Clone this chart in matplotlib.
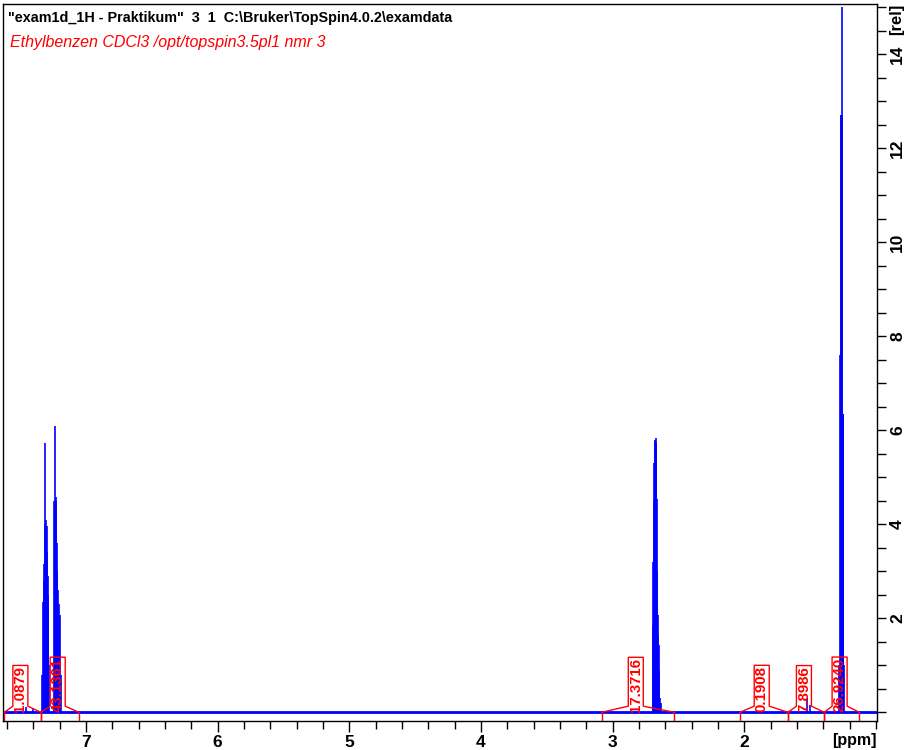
"""1H NMR spectrum of ethylbenzene (TopSpin style plot)"""

import matplotlib.pyplot as plt
from matplotlib.ticker import FixedLocator, MultipleLocator

# peak lines: position (ppm) and height (rel)
arom_ppm = [7.330, 7.324, 7.320, 7.317, 7.313, 7.310, 7.305, 7.302, 7.298,
            7.295, 7.292, 7.289, 7.286, 7.280, 7.239, 7.236, 7.233, 7.229,
            7.226, 7.222, 7.218, 7.212, 7.207, 7.202, 7.197, 7.190]
arom_int = [0.8, 2.35, 2.8, 3.16, 4.0, 5.74, 4.10, 3.5, 3.96,
            3.4, 2.90, 2.5, 2.20, 1.0, 4.50, 4.4, 6.10, 4.5,
            4.58, 3.6, 3.00, 2.6, 2.30, 2.0, 2.06, 0.8]

ch2_ppm = [2.696, 2.690, 2.687, 2.683, 2.679, 2.677, 2.674, 2.672, 2.670,
           2.666, 2.662, 2.659, 2.655, 2.651, 2.647, 2.640, 2.632]
ch2_int = [1.85, 3.2, 4.50, 5.3, 5.77, 5.8, 5.84, 5.7, 5.74,
           4.53, 3.0, 2.06, 1.64, 1.43, 0.87, 0.30, 0.20]

ch3_ppm = [1.277, 1.271, 1.268, 1.266, 1.263, 1.261, 1.256, 1.252, 1.249, 1.247, 1.240]
ch3_int = [1.0, 7.6, 7.6, 12.7, 12.7, 12.7, 15.0, 6.35, 6.35, 6.35, 1.0]

minor_ppm = [7.456, 7.40, 1.524, 1.50]
minor_int = [0.12, 0.08, 0.30, 0.15]

# integral regions (ppm) and their values
integ_left = [7.62, 7.342, 3.084, 2.033, 1.668, 1.392]
integ_right = [7.342, 7.053, 2.530, 1.668, 1.392, 1.126]
integ_text = ['1.0879', '43.1361', '17.3716', '0.1908', '7.8986', '26.9240']

x_ticks = [7, 6, 5, 4, 3, 2]
y_ticks = [2, 4, 6, 8, 10, 12, 14]

BLUE = '#0000ff'
RED = '#ff0000'


def main():
    """Main function"""
    plt.rcParams['font.family'] = ['Liberation Sans', 'DejaVu Sans']

    fig = plt.figure(figsize=(9.1, 7.5), dpi=100)
    ax = fig.add_axes([3 / 910, 29 / 750, 874 / 910, 717.5 / 750])

    ax.set_xlim(7.630, 0.992)
    ax.set_ylim(-0.185, 15.08)

    #spectrum: baseline plus the individual lines
    ax.axhline(0, color=BLUE, lw=2.0, zorder=2)
    for ppm, inten in [(arom_ppm, arom_int), (ch2_ppm, ch2_int),
                       (ch3_ppm, ch3_int), (minor_ppm, minor_int)]:
        ax.vlines(ppm, 0, inten, color=BLUE, lw=1.2, zorder=2)

    #integrals with their boxed labels
    fig.canvas.draw()
    inv = ax.transData.inverted()
    half = 0.057
    for left, right, txt in zip(integ_left, integ_right, integ_text):
        mid = (left + right) / 2 + 0.017
        t = ax.text(mid, 0.0, txt, rotation=90, ha='center', va='bottom',
                    color=RED, fontweight='bold', fontsize=10.8, zorder=4)
        bb = t.get_window_extent(renderer=fig.canvas.get_renderer())
        top = inv.transform((bb.x0, bb.y1 + 1.0))[1]
        ax.plot([left, mid + half, mid + half, mid - half, mid - half, right],
                [0.0, 0.13, top, top, 0.13, 0.0], color=RED, lw=1, zorder=3)
        ax.vlines([left, right], -0.185, 0.0, color=RED, lw=1, zorder=3)

    #axes styling
    for side in ['left', 'right', 'top', 'bottom']:
        ax.spines[side].set_linewidth(1.0)
    ax.xaxis.set_major_locator(FixedLocator(x_ticks))
    ax.xaxis.set_minor_locator(MultipleLocator(0.2))
    ax.set_xticklabels([str(v) for v in x_ticks], fontweight='bold', fontsize=12.5)
    ax.tick_params(axis='x', which='major', length=8, width=1, pad=2)
    ax.tick_params(axis='x', which='minor', length=6, width=1)

    ax.yaxis.tick_right()
    ax.yaxis.set_major_locator(FixedLocator(y_ticks))
    ax.yaxis.set_minor_locator(MultipleLocator(0.5))
    ax.set_yticklabels([str(v) for v in y_ticks], fontweight='bold', fontsize=12.5,
                       rotation=90, va='center')
    ax.tick_params(axis='y', which='both', length=6.5, width=1, pad=3)

    #header texts
    fig.text(8 / 910, 1 - 22 / 750,
             '"exam1d_1H - Praktikum"  3  1  C:\\Bruker\\TopSpin4.0.2\\examdata',
             fontsize=10.4, fontweight='bold', va='baseline')
    fig.text(10 / 910, 1 - 47 / 750, 'Ethylbenzen CDCl3 /opt/topspin3.5pl1 nmr 3',
             fontsize=11.5, style='italic', color=RED, va='baseline')

    #axis unit labels
    fig.text(854 / 910, 1 - 741 / 750, '[ppm]', fontsize=11.5, fontweight='bold',
             ha='center', va='center')
    fig.text(897 / 910, 1 - 19 / 750, '[rel]', fontsize=12, fontweight='bold',
             ha='center', va='center', rotation=90)

    plt.savefig('out.png', dpi=100)


if __name__ == "__main__":
    main()
